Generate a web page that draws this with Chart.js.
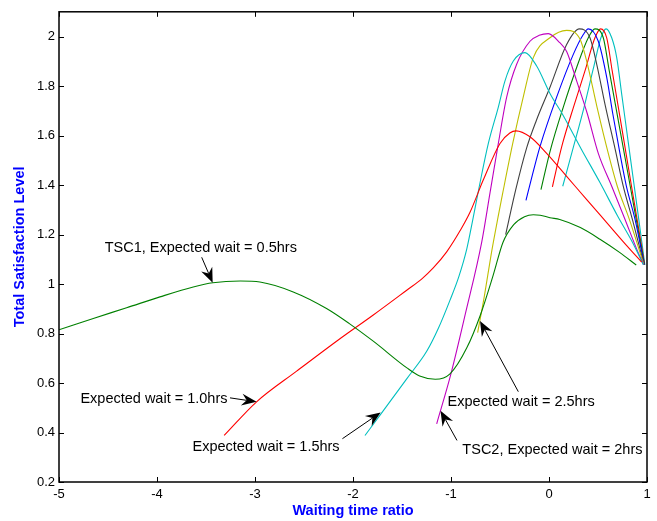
<!DOCTYPE html>
<html lang="en">
<head>
    <meta charset="UTF-8">
    <title>Total Satisfaction Level vs Waiting time ratio</title>
    <!-- Chart.js -->
    <script src="https://cdn.jsdelivr.net/npm/chart.js@4.4.0/dist/chart.umd.min.js"></script>
    <style>
        html, body {
            margin: 0;
            padding: 0;
            background-color: #fff;
        }
        #wrap {
            width: 657px;
            height: 521px;
        }
    </style>
</head>
<body>
    <div id="wrap"><canvas id="tscChart" width="657" height="521"></canvas></div>

    <script>
        // axis ticks
        const xTicks = [-5, -4, -3, -2, -1, 0, 1];
        const yTicks = [0.2, 0.4, 0.6, 0.8, 1, 1.2, 1.4, 1.6, 1.8, 2];

        // expected wait of each curve (hrs) and its colour
        const waitHours = [0.5, 1.0, 1.5, 2.0, 2.5, 3.0, 3.5, 4.0, 4.5, 5.0];
        const lineColors = ['#008000', '#ff0000', '#00bfbf', '#bf00bf', '#bfbf00', '#404040', '#0000ff', '#008000', '#ff0000', '#00bfbf'];

        // curves: waiting time ratio / total satisfaction level
        const x05 = [-5, -4.65, -4.31, -3.97, -3.63, -3.43, -3.15, -2.95, -2.61, -2.27, -2.03, -1.79, -1.45, -1.32, -1.16, -1.01, -0.84, -0.70, -0.57, -0.47, -0.36, -0.25, -0.16, -0.09, 0.01, 0.11, 0.32, 0.52, 0.72, 0.89];
        const y05 = [0.815, 0.861, 0.904, 0.948, 0.988, 1.005, 1.012, 1.008, 0.968, 0.901, 0.838, 0.768, 0.661, 0.628, 0.615, 0.637, 0.741, 0.875, 1.035, 1.168, 1.24, 1.272, 1.28, 1.278, 1.268, 1.261, 1.228, 1.181, 1.128, 1.077];

        const x10 = [-3.315, -2.984, -2.575, -2.147, -1.793, -1.452, -1.3, -1.181, -1.044, -0.908, -0.806, -0.67, -0.5, -0.4, -0.337, -0.194, -0.024, 0.18, 0.385, 0.589, 0.793, 0.946];
        const y10 = [0.388, 0.524, 0.648, 0.775, 0.875, 0.975, 1.02, 1.065, 1.13, 1.215, 1.29, 1.421, 1.568, 1.61, 1.619, 1.595, 1.528, 1.435, 1.341, 1.248, 1.155, 1.088];

        const x15 = [-1.878, -1.724, -1.452, -1.248, -1.13, -1.01, -0.92, -0.84, -0.78, -0.711, -0.619, -0.517, -0.449, -0.364, -0.245, -0.126, 0.01, 0.146, 0.33, 0.52, 0.70, 0.85, 0.963];
        const y15 = [0.388, 0.47, 0.617, 0.728, 0.82, 0.935, 1.03, 1.14, 1.255, 1.395, 1.568, 1.715, 1.821, 1.901, 1.935, 1.881, 1.77, 1.68, 1.545, 1.41, 1.275, 1.17, 1.078];

        const x20 = [-1.146, -0.998, -0.85, -0.687, -0.602, -0.517, -0.432, -0.33, -0.194, -0.1, -0.007, 0.11, 0.18, 0.282, 0.391, 0.503, 0.64, 0.776, 0.895, 0.965];
        const y20 = [0.435, 0.641, 0.885, 1.168, 1.368, 1.568, 1.755, 1.888, 1.981, 2.005, 2.012, 1.975, 1.94, 1.821, 1.688, 1.528, 1.395, 1.261, 1.141, 1.078];

        const x25 = [-0.728, -0.66, -0.59, -0.52, -0.472, -0.37, -0.26, -0.16, 0.01, 0.18, 0.316, 0.385, 0.49, 0.605, 0.697, 0.82, 0.968];
        const y25 = [0.804, 0.95, 1.12, 1.27, 1.368, 1.568, 1.76, 1.915, 1.995, 2.025, 1.99, 1.90, 1.715, 1.528, 1.395, 1.261, 1.078];

        const x30 = [-0.442, -0.34, -0.228, -0.13, 0.01, 0.18, 0.309, 0.418, 0.487, 0.575, 0.675, 0.755, 0.855, 0.97];
        const y30 = [1.2, 1.38, 1.55, 1.66, 1.795, 1.968, 2.031, 1.995, 1.888, 1.72, 1.545, 1.40, 1.255, 1.078];

        const x35 = [-0.235, -0.17, -0.092, 0.078, 0.248, 0.35, 0.401, 0.503, 0.589, 0.65, 0.724, 0.79, 0.878, 0.972];
        const y35 = [1.338, 1.44, 1.555, 1.755, 1.928, 2.008, 2.031, 1.981, 1.835, 1.69, 1.528, 1.395, 1.261, 1.078];

        const x40 = [-0.082, 0.01, 0.146, 0.282, 0.401, 0.469, 0.554, 0.615, 0.68, 0.768, 0.829, 0.89, 0.974];
        const y40 = [1.381, 1.535, 1.715, 1.875, 1.995, 2.031, 1.995, 1.861, 1.72, 1.528, 1.395, 1.261, 1.078];

        const x45 = [0.035, 0.09, 0.14, 0.25, 0.367, 0.469, 0.527, 0.589, 0.645, 0.705, 0.786, 0.842, 0.899, 0.976];
        const y45 = [1.393, 1.49, 1.57, 1.715, 1.861, 1.995, 2.031, 1.995, 1.861, 1.72, 1.528, 1.395, 1.261, 1.078];

        const x50 = [0.14, 0.25, 0.355, 0.452, 0.53, 0.582, 0.64, 0.691, 0.746, 0.813, 0.87, 0.916, 0.978];
        const y50 = [1.395, 1.555, 1.71, 1.87, 1.995, 2.031, 1.995, 1.915, 1.755, 1.56, 1.395, 1.261, 1.078];

        const curveX = [x05, x10, x15, x20, x25, x30, x35, x40, x45, x50];
        const curveY = [y05, y10, y15, y20, y25, y30, y35, y40, y45, y50];

        // text arrows (data coordinates)
        const notes = [
            { text: 'TSC1, Expected wait = 0.5hrs', at: [-3.553, 1.144], from: [-3.544, 1.108], to: [-3.432, 1.005] },
            { text: 'Expected wait = 1.0hrs', at: [-4.031, 0.536], from: [-3.255, 0.54], to: [-2.984, 0.524] },
            { text: 'Expected wait = 1.5hrs', at: [-2.887, 0.34], from: [-2.108, 0.375], to: [-1.718, 0.481] },
            { text: 'Expected wait = 2.5hrs', at: [-0.284, 0.525], from: [-0.313, 0.565], to: [-0.704, 0.851] },
            { text: 'TSC2, Expected wait = 2hrs', at: [0.035, 0.328], from: [-0.939, 0.368], to: [-1.107, 0.488] }
        ];

        const FONT = '"Liberation Sans", Arial, Helvetica, sans-serif';

        function drawArrow(ctx, x0, y0, x1, y1) {
            const a = Math.atan2(y1 - y0, x1 - x0);
            const ux = Math.cos(a), uy = Math.sin(a);
            const len = 15, half = 6, notch = 10;
            ctx.beginPath();
            ctx.moveTo(x0, y0);
            ctx.lineTo(x1 - ux * notch, y1 - uy * notch);
            ctx.stroke();
            ctx.beginPath();
            ctx.moveTo(x1, y1);
            ctx.lineTo(x1 - ux * len - uy * half, y1 - uy * len + ux * half);
            ctx.lineTo(x1 - ux * notch, y1 - uy * notch);
            ctx.lineTo(x1 - ux * len + uy * half, y1 - uy * len - ux * half);
            ctx.closePath();
            ctx.fill();
        }

        // box, inward ticks and text arrows like the original figure
        const framePlugin = {
            id: 'frame',
            afterDatasetsDraw(chart) {
                const { ctx, chartArea: a, scales: { x, y } } = chart;
                ctx.save();
                ctx.strokeStyle = '#000';
                ctx.lineWidth = 1;
                ctx.beginPath();
                xTicks.forEach(v => {
                    const px = Math.round(x.getPixelForValue(v)) + 0.5;
                    ctx.moveTo(px, a.bottom); ctx.lineTo(px, a.bottom - 5);
                    ctx.moveTo(px, a.top); ctx.lineTo(px, a.top + 5);
                });
                yTicks.forEach(v => {
                    const py = Math.round(y.getPixelForValue(v)) + 0.5;
                    ctx.moveTo(a.left, py); ctx.lineTo(a.left + 5, py);
                    ctx.moveTo(a.right, py); ctx.lineTo(a.right - 5, py);
                });
                ctx.stroke();
                ctx.lineWidth = 1.5;
                ctx.strokeRect(a.left, a.top, a.right - a.left, a.bottom - a.top);

                ctx.fillStyle = '#000';
                ctx.lineWidth = 1;
                ctx.font = '14.5px ' + FONT;
                ctx.textAlign = 'center';
                ctx.textBaseline = 'middle';
                notes.forEach(n => {
                    ctx.fillText(n.text, x.getPixelForValue(n.at[0]), y.getPixelForValue(n.at[1]));
                    drawArrow(ctx,
                        x.getPixelForValue(n.from[0]), y.getPixelForValue(n.from[1]),
                        x.getPixelForValue(n.to[0]), y.getPixelForValue(n.to[1]));
                });
                ctx.restore();
            }
        };

        const datasets = curveX.map((xs, i) => ({
            label: 'Expected wait = ' + waitHours[i] + 'hrs',
            data: xs.map((v, j) => ({ x: v, y: curveY[i][j] })),
            borderColor: lineColors[i],
            borderWidth: 1.1,
            pointRadius: 0,
            fill: false,
            cubicInterpolationMode: 'monotone'
        }));

        const tickFont = { family: FONT, size: 13 };
        const titleFont = { family: FONT, size: 14.5, weight: 'bold' };

        new Chart(document.getElementById('tscChart'), {
            type: 'line',
            data: { datasets: datasets },
            options: {
                responsive: false,
                animation: false,
                layout: { padding: { left: 0, right: 10, top: 7, bottom: 0 } },
                plugins: {
                    legend: { display: false },
                    tooltip: { enabled: false }
                },
                scales: {
                    x: {
                        type: 'linear',
                        min: -5,
                        max: 1,
                        afterBuildTicks: s => { s.ticks = xTicks.map(v => ({ value: v })); },
                        afterFit: s => { s.height = 39; },
                        grid: { display: false, drawTicks: false },
                        border: { display: false },
                        ticks: { font: tickFont, color: '#000', padding: 5, maxRotation: 0, autoSkip: false, callback: v => String(v) },
                        title: { display: true, text: 'Waiting time ratio', color: '#0000ff', font: titleFont, padding: { top: 0, bottom: 1 } }
                    },
                    y: {
                        type: 'linear',
                        min: 0.2,
                        max: 2.1,
                        afterBuildTicks: s => { s.ticks = yTicks.map(v => ({ value: v })); },
                        afterFit: s => { s.width = 59; },
                        grid: { display: false, drawTicks: false },
                        border: { display: false },
                        ticks: { font: tickFont, color: '#000', padding: 4, autoSkip: false, callback: v => String(v) },
                        title: { display: true, text: 'Total Satisfaction Level', color: '#0000ff', font: titleFont, padding: { top: 11, bottom: 0 } }
                    }
                }
            },
            plugins: [framePlugin]
        });
    </script>
</body>
</html>
